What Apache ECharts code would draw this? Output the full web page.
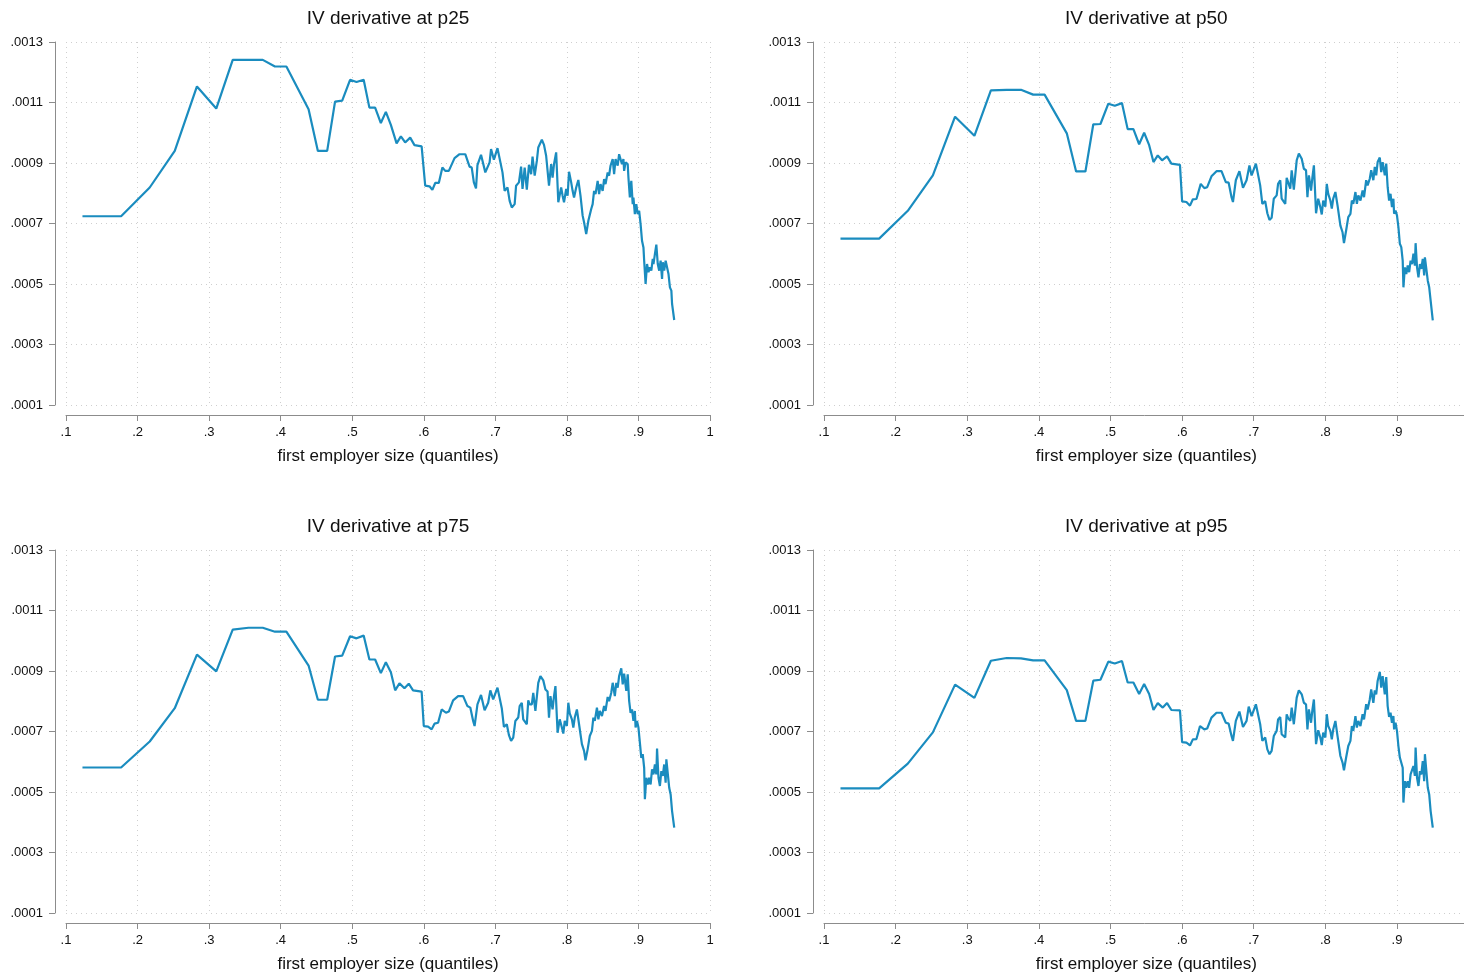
<!DOCTYPE html>
<html>
<head>
<meta charset="utf-8">
<script src="https://cdn.jsdelivr.net/npm/echarts@6/dist/echarts.min.js"></script>
<style>
html,body{margin:0;padding:0;background:#fff;}
#chart{width:1464px;height:975px;}
</style>
</head>
<body>
<div id="chart"></div>
<script>
const panelTitles = ['IV derivative at p25', 'IV derivative at p50', 'IV derivative at p75', 'IV derivative at p95'];
const xAxisTitle = 'first employer size (quantiles)';
const yTicks = [0.0001, 0.0013, 0.0002];   // min, max, step
const xTicks = [0.1, 1, 0.1];               // min, max, step

const p25 = [[0.123,0.000724],[0.177,0.000724],[0.217,0.000819],[0.252,0.00094],[0.283,0.001153],[0.310,0.00108],[0.333,0.001241],[0.355,0.001241],[0.375,0.001241],[0.392,0.001219],[0.408,0.001219],[0.439,0.001078],[0.452,0.00094],[0.465,0.00094],[0.476,0.001103],[0.486,0.001106],[0.497,0.001175],[0.506,0.001168],[0.516,0.001175],[0.524,0.001083],[0.532,0.001083],[0.540,0.001032],[0.547,0.001069],[0.554,0.001026],
[0.562,0.000965],[0.568,0.000988],[0.574,0.000968],[0.581,0.000984],[0.587,0.000959],[0.597,0.000955],[0.602,0.000825],[0.608,0.000823],[0.612,0.000811],[0.616,0.000834],[0.621,0.000834],[0.626,0.000885],[0.630,0.000874],[0.635,0.000874],[0.643,0.000916],[0.650,0.000929],[0.658,0.000929],[0.664,0.000888],[0.667,0.000885],[0.670,0.000836],[0.673,0.000816],[0.675,0.000893],[0.680,0.000927],[0.686,0.000869],[0.692,0.000902],[0.694,0.000946],[0.698,0.000911],[0.703,0.000949],[0.710,0.000869],[0.713,0.000808],[0.717,0.000819],[0.720,0.000775],[0.723,0.000753],[0.727,0.000764],[0.729,0.000825],[0.733,0.000836],[0.736,0.000888],[0.738,0.000814],[0.741,0.000885],[0.744,0.000812],[0.747,0.000894],[0.750,0.000863],[0.752,0.000921],[0.755,0.000858],[0.758,0.000907],[0.760,0.000951],[0.765,0.000977],[0.768,0.00096],[0.771,0.000924],[0.773,0.000924],[0.775,0.000825],[0.778,0.000896],[0.780,0.000852],[0.782,0.000896],[0.785,0.000935],[0.788,0.00077],[0.792,0.000819],[0.794,0.000792],[0.796,0.00077],[0.799,0.000814],[0.801,0.000792],[0.803,0.000871],[0.806,0.000836],[0.808,0.000808],[0.810,0.000786],[0.813,0.000819],[0.816,0.000844],[0.819,0.000792],[0.822,0.000726],[0.824,0.000704],[0.827,0.000665],[0.830,0.000709],[0.834,0.000748],[0.836,0.000764],[0.838,0.000808],[0.840,0.000797],[0.843,0.000841],[0.845,0.000797],[0.847,0.00083],[0.850,0.000808],[0.852,0.000847],[0.854,0.00083],[0.857,0.000869],[0.859,0.000858],[0.861,0.000891],[0.864,0.000913],[0.866,0.000863],[0.868,0.000913],[0.871,0.000891],[0.873,0.000929],[0.875,0.000924],[0.877,0.000896],[0.879,0.000913],[0.880,0.000874],[0.882,0.000902],[0.885,0.000896],[0.886,0.000852],[0.888,0.000786],[0.890,0.000841],[0.892,0.000764],[0.893,0.000786],[0.895,0.000731],[0.897,0.000764],[0.899,0.000731],[0.901,0.000742],[0.903,0.000698],[0.905,0.000643],[0.907,0.000621],[0.908,0.000577],[0.910,0.0005],[0.912,0.000566],[0.914,0.000539],[0.916,0.000555],[0.918,0.000544],[0.920,0.000583],[0.921,0.000566],[0.923,0.000599],[0.925,0.00063],[0.927,0.000566],[0.929,0.000544],[0.931,0.000577],[0.933,0.000517],[0.934,0.000572],[0.936,0.000544],[0.938,0.000577],[0.940,0.000577],[0.942,0.000533],[0.944,0.000489],[0.946,0.000478],[0.947,0.000434],[0.950,0.000381]];

const p50 = [[0.123,0.00065],[0.177,0.00065],[0.217,0.000742],[0.252,0.000859],[0.283,0.001053],[0.310,0.00099],[0.333,0.00114],[0.355,0.001142],[0.375,0.001142],[0.392,0.001126],[0.408,0.001126],[0.439,0.000998],[0.452,0.000872],[0.465,0.000872],[0.476,0.001028],[0.486,0.001029],[0.497,0.001096],[0.506,0.001089],[0.516,0.001098],[0.524,0.001012],[0.532,0.001012],[0.540,0.000962],[0.547,0.001],[0.554,0.000959],
[0.560,0.000903],[0.566,0.000925],[0.572,0.000909],[0.579,0.000922],[0.585,0.000898],[0.597,0.000894],[0.600,0.000773],[0.606,0.000771],[0.611,0.000759],[0.615,0.00078],[0.620,0.000781],[0.626,0.000831],[0.631,0.000817],[0.635,0.00082],[0.641,0.000856],[0.648,0.000873],[0.655,0.000873],[0.661,0.000837],[0.665,0.000835],[0.669,0.000787],[0.671,0.000771],[0.675,0.000843],[0.680,0.000873],[0.685,0.000818],[0.690,0.000843],[0.694,0.000892],[0.697,0.000859],[0.703,0.000898],[0.709,0.000826],[0.712,0.000765],[0.716,0.000774],[0.719,0.000734],[0.722,0.000712],[0.725,0.000719],[0.728,0.000782],[0.732,0.000793],[0.734,0.000831],[0.737,0.000843],[0.739,0.000782],[0.741,0.000787],[0.744,0.000765],[0.746,0.000851],[0.748,0.000837],[0.751,0.000815],[0.753,0.000876],[0.756,0.000812],[0.760,0.000909],[0.763,0.000931],[0.767,0.000914],[0.770,0.000881],[0.773,0.000876],[0.775,0.000787],[0.777,0.000859],[0.780,0.000809],[0.782,0.000854],[0.784,0.000892],[0.787,0.000734],[0.790,0.000782],[0.793,0.000754],[0.795,0.00073],[0.797,0.000776],[0.800,0.000756],[0.802,0.000831],[0.804,0.000798],[0.807,0.000776],[0.809,0.000749],[0.811,0.000782],[0.814,0.000804],[0.817,0.00076],[0.821,0.000693],[0.824,0.000671],[0.826,0.000635],[0.829,0.000677],[0.832,0.000721],[0.835,0.000732],[0.837,0.000776],[0.839,0.000765],[0.842,0.000804],[0.844,0.000765],[0.846,0.000793],[0.849,0.000776],[0.852,0.000809],[0.854,0.000787],[0.857,0.000843],[0.859,0.000826],[0.862,0.000848],[0.864,0.000876],[0.867,0.000843],[0.869,0.000887],[0.871,0.000859],[0.873,0.000903],[0.876,0.000918],[0.878,0.00087],[0.880,0.000903],[0.883,0.000859],[0.885,0.000898],[0.887,0.00082],[0.889,0.000776],[0.891,0.000798],[0.893,0.000754],[0.895,0.000782],[0.896,0.000732],[0.898,0.000743],[0.900,0.000727],[0.902,0.000688],[0.904,0.000633],[0.906,0.000622],[0.908,0.000577],[0.909,0.000489],[0.911,0.000555],[0.913,0.000533],[0.915,0.000561],[0.917,0.000539],[0.919,0.000577],[0.921,0.000566],[0.923,0.0006],[0.925,0.000561],[0.926,0.000635],[0.928,0.000555],[0.930,0.000522],[0.932,0.000566],[0.934,0.00055],[0.936,0.000583],[0.938,0.000528],[0.939,0.000588],[0.941,0.000588],[0.943,0.000511],[0.945,0.000489],[0.947,0.000445],[0.950,0.00038]];

const p75 = [[0.123,0.000581],[0.177,0.000581],[0.217,0.000667],[0.252,0.000777],[0.283,0.000954],[0.310,0.000899],[0.333,0.001037],[0.355,0.001043],[0.375,0.001043],[0.392,0.00103],[0.408,0.00103],[0.439,0.000918],[0.452,0.000805],[0.465,0.000805],[0.476,0.000948],[0.486,0.000951],[0.497,0.001015],[0.506,0.001008],[0.516,0.001017],[0.524,0.000938],[0.532,0.000938],[0.540,0.000893],[0.547,0.000929],[0.554,0.000896],
[0.560,0.000836],[0.566,0.000859],[0.573,0.000843],[0.579,0.000858],[0.585,0.000836],[0.597,0.000832],[0.600,0.000718],[0.606,0.000716],[0.611,0.000707],[0.615,0.000726],[0.620,0.000729],[0.625,0.000773],[0.631,0.000762],[0.635,0.000766],[0.641,0.000803],[0.648,0.000817],[0.655,0.000817],[0.661,0.000784],[0.665,0.000779],[0.669,0.000735],[0.671,0.000718],[0.675,0.00079],[0.680,0.000821],[0.685,0.00077],[0.690,0.000795],[0.693,0.000836],[0.697,0.000806],[0.703,0.000845],[0.709,0.000777],[0.712,0.000715],[0.716,0.000724],[0.719,0.000688],[0.722,0.000669],[0.725,0.00068],[0.728,0.000735],[0.732,0.000746],[0.734,0.000784],[0.737,0.000795],[0.739,0.00074],[0.741,0.000735],[0.744,0.000724],[0.746,0.000803],[0.748,0.00079],[0.751,0.00079],[0.753,0.000828],[0.756,0.000768],[0.760,0.000861],[0.763,0.000883],[0.767,0.000869],[0.770,0.000839],[0.773,0.000832],[0.775,0.000746],[0.777,0.000817],[0.780,0.000773],[0.782,0.000817],[0.784,0.00085],[0.787,0.000696],[0.790,0.00074],[0.793,0.000713],[0.795,0.000693],[0.797,0.000735],[0.800,0.000718],[0.802,0.000795],[0.804,0.00076],[0.807,0.00074],[0.809,0.000713],[0.811,0.000746],[0.814,0.000773],[0.817,0.000724],[0.821,0.000658],[0.824,0.000636],[0.826,0.000605],[0.829,0.000641],[0.832,0.000685],[0.835,0.000702],[0.837,0.000746],[0.839,0.000735],[0.842,0.000779],[0.844,0.00074],[0.846,0.000768],[0.849,0.000751],[0.852,0.000784],[0.854,0.000768],[0.857,0.000814],[0.859,0.0008],[0.862,0.000828],[0.864,0.000861],[0.867,0.000817],[0.869,0.000861],[0.871,0.000845],[0.873,0.000883],[0.876,0.000909],[0.878,0.000856],[0.880,0.000891],[0.883,0.000834],[0.885,0.000889],[0.887,0.000801],[0.889,0.000762],[0.891,0.000773],[0.893,0.000735],[0.895,0.000768],[0.896,0.000713],[0.898,0.000735],[0.900,0.000713],[0.902,0.000663],[0.904,0.000613],[0.906,0.000625],[0.908,0.00058],[0.909,0.000476],[0.911,0.000547],[0.913,0.000525],[0.915,0.000547],[0.917,0.000525],[0.919,0.000575],[0.921,0.000558],[0.923,0.000591],[0.925,0.000558],[0.926,0.000644],[0.928,0.000547],[0.930,0.00052],[0.932,0.000569],[0.934,0.000553],[0.936,0.000591],[0.938,0.000531],[0.939,0.000608],[0.941,0.000608],[0.943,0.000514],[0.945,0.000492],[0.947,0.000437],[0.950,0.000382]];

const p95 = [[0.123,0.000512],[0.177,0.000512],[0.217,0.000594],[0.252,0.000697],[0.283,0.000855],[0.310,0.000811],[0.333,0.000934],[0.355,0.000943],[0.375,0.000942],[0.392,0.000935],[0.408,0.000935],[0.439,0.000837],[0.452,0.000735],[0.465,0.000735],[0.476,0.000868],[0.486,0.000871],[0.497,0.000931],[0.506,0.000925],[0.516,0.000933],[0.524,0.000862],[0.532,0.000862],[0.540,0.000824],[0.547,0.000857],[0.554,0.000824],
[0.560,0.000771],[0.566,0.000794],[0.573,0.000779],[0.579,0.000794],[0.585,0.000771],[0.597,0.00077],[0.600,0.000665],[0.606,0.000663],[0.611,0.000654],[0.615,0.000674],[0.620,0.000675],[0.625,0.000718],[0.631,0.000707],[0.635,0.00071],[0.641,0.000746],[0.648,0.000762],[0.655,0.000762],[0.661,0.000729],[0.665,0.000726],[0.669,0.000685],[0.671,0.000669],[0.675,0.000735],[0.680,0.000766],[0.685,0.000715],[0.690,0.000735],[0.693,0.000782],[0.697,0.000751],[0.703,0.00079],[0.709,0.000724],[0.712,0.000669],[0.716,0.00068],[0.719,0.000641],[0.722,0.000625],[0.725,0.000636],[0.728,0.000685],[0.732,0.000702],[0.734,0.00074],[0.737,0.000748],[0.739,0.000691],[0.741,0.000685],[0.744,0.00068],[0.746,0.000757],[0.748,0.000744],[0.751,0.000735],[0.753,0.000779],[0.756,0.000724],[0.760,0.000812],[0.763,0.000836],[0.767,0.000823],[0.770,0.000795],[0.773,0.00079],[0.775,0.000707],[0.777,0.000773],[0.780,0.000729],[0.782,0.000773],[0.784,0.000806],[0.787,0.000658],[0.790,0.000704],[0.793,0.00068],[0.795,0.000655],[0.797,0.000696],[0.800,0.00068],[0.802,0.000757],[0.804,0.000718],[0.807,0.000702],[0.809,0.000674],[0.811,0.000707],[0.814,0.000735],[0.817,0.000685],[0.821,0.000619],[0.824,0.000597],[0.826,0.000572],[0.829,0.000614],[0.832,0.000652],[0.835,0.000669],[0.837,0.000718],[0.839,0.000702],[0.842,0.000751],[0.844,0.000713],[0.846,0.000735],[0.849,0.000718],[0.852,0.000757],[0.854,0.00074],[0.857,0.00079],[0.859,0.000773],[0.862,0.000806],[0.864,0.000839],[0.867,0.000795],[0.869,0.000836],[0.871,0.000823],[0.873,0.000867],[0.876,0.000897],[0.878,0.000845],[0.880,0.000883],[0.883,0.000823],[0.885,0.00088],[0.887,0.000784],[0.889,0.000748],[0.891,0.000762],[0.893,0.000729],[0.895,0.000751],[0.896,0.000707],[0.898,0.000729],[0.900,0.000702],[0.902,0.000652],[0.904,0.000614],[0.906,0.000619],[0.908,0.00058],[0.909,0.000465],[0.911,0.000536],[0.913,0.000514],[0.915,0.000536],[0.917,0.000514],[0.919,0.000558],[0.921,0.000553],[0.923,0.000586],[0.925,0.000553],[0.926,0.000647],[0.928,0.000547],[0.930,0.00052],[0.932,0.000569],[0.934,0.000558],[0.936,0.000602],[0.938,0.000536],[0.939,0.000625],[0.941,0.000619],[0.943,0.000514],[0.945,0.000492],[0.947,0.000437],[0.950,0.000382]];

const panelData = [p25, p50, p75, p95];

const FONT = '"Liberation Sans", Arial, Helvetica, sans-serif';
const LINE_COLOR = '#1a8cbf';
const AXIS_COLOR = '#8c8c8c';
const GRID_COLOR = '#cfcfcf';

const layout = [
  {left: 66,  top: 42,  width: 644,   height: 363, cx: 388},
  {left: 824, top: 42,  width: 644.6, height: 363, cx: 1146.3},
  {left: 66,  top: 550, width: 644,   height: 363, cx: 388},
  {left: 824, top: 550, width: 644.6, height: 363, cx: 1146.3}
];

const chart = echarts.init(document.getElementById('chart'), null, {renderer: 'canvas'});

const option = {
  animation: false,
  backgroundColor: '#ffffff',
  textStyle: {fontFamily: FONT},
  title: layout.map((g, i) => ({
    text: panelTitles[i],
    left: g.cx,
    top: g.top - 33,
    textAlign: 'center',
    padding: 0,
    textStyle: {fontFamily: FONT, fontSize: 19, fontWeight: 'normal', color: '#111'}
  })),
  grid: layout.map(g => ({
    left: g.left, top: g.top, width: g.width, height: g.height,
    containLabel: false, outerBoundsMode: 'none'
  })),
  xAxis: layout.map((g, i) => ({
    type: 'value', gridIndex: i,
    min: xTicks[0], max: xTicks[1], interval: xTicks[2],
    offset: 10,
    name: xAxisTitle, nameLocation: 'middle', nameGap: 33,
    nameTextStyle: {fontFamily: FONT, fontSize: 17, color: '#111'},
    axisLine: {show: true, onZero: false, lineStyle: {color: AXIS_COLOR, width: 1}},
    axisTick: {show: true, length: 6, lineStyle: {color: AXIS_COLOR, width: 1}},
    axisLabel: {
      show: true, margin: 11, fontFamily: FONT, fontSize: 13, color: '#111',
      showMinLabel: true, showMaxLabel: true, hideOverlap: false,
      formatter: v => (Math.abs(v - 1) < 1e-9 ? '1' : v.toFixed(1).replace(/^0/, ''))
    },
    splitLine: {show: true, lineStyle: {color: GRID_COLOR, width: 1, type: [1, 4]}}
  })),
  yAxis: layout.map((g, i) => ({
    type: 'value', gridIndex: i,
    min: yTicks[0], max: yTicks[1], interval: yTicks[2],
    offset: 11,
    axisLine: {show: true, onZero: false, lineStyle: {color: AXIS_COLOR, width: 1}},
    axisTick: {show: true, length: 6, lineStyle: {color: AXIS_COLOR, width: 1}},
    axisLabel: {
      show: true, margin: 12, fontFamily: FONT, fontSize: 13, color: '#111',
      showMinLabel: true, showMaxLabel: true,
      formatter: v => v.toFixed(4).replace(/^0/, '')
    },
    splitLine: {show: true, lineStyle: {color: GRID_COLOR, width: 1, type: [1, 4]}}
  })),
  series: panelData.map((d, i) => ({
    type: 'line', xAxisIndex: i, yAxisIndex: i,
    data: d, showSymbol: false, symbol: 'none', smooth: false,
    lineStyle: {color: LINE_COLOR, width: 2.2},
    itemStyle: {color: LINE_COLOR},
    clip: false
  }))
};

chart.setOption(option);
</script>
</body>
</html>
